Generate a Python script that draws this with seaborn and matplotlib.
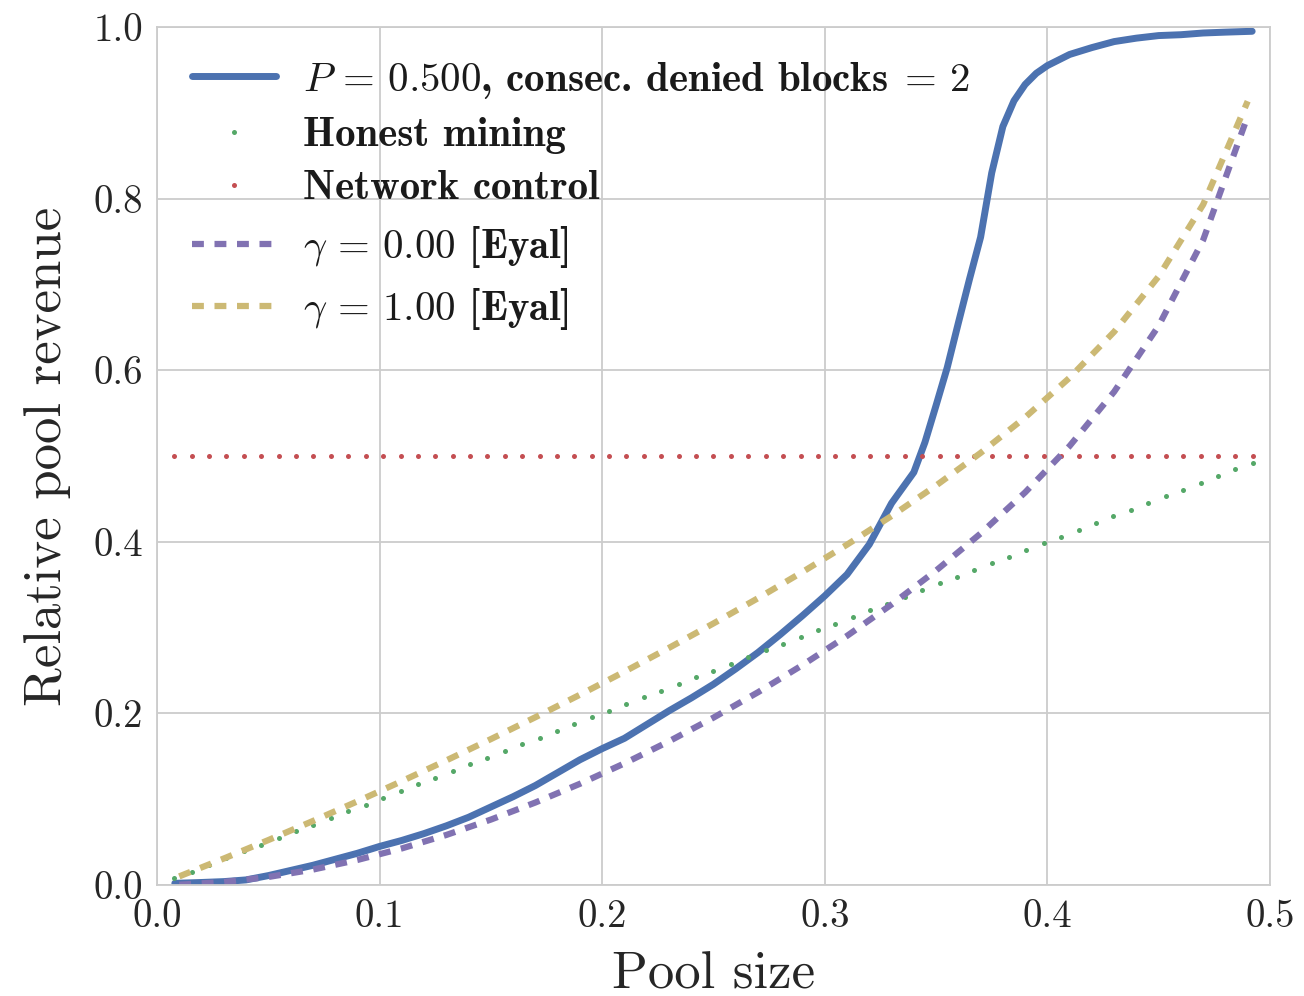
import numpy as np
import pandas as pd
import matplotlib
matplotlib.use("Agg")
import matplotlib.pyplot as plt
import seaborn as sns

# blue: simulated pool revenue, P = 0.5, 2 consecutive denied blocks
sim_pool_size = [0.008, 0.02, 0.03, 0.04, 0.05, 0.06, 0.07, 0.08, 0.09, 0.10,
                 0.11, 0.12, 0.13, 0.14, 0.15, 0.16, 0.17, 0.18, 0.19, 0.20,
                 0.21, 0.22, 0.23, 0.24, 0.25, 0.26, 0.27, 0.28, 0.29, 0.30,
                 0.31, 0.32, 0.33, 0.34, 0.345, 0.35, 0.355, 0.36, 0.365, 0.37,
                 0.375, 0.38, 0.385, 0.39, 0.395, 0.40,
                 0.41, 0.42, 0.43, 0.44, 0.45, 0.46, 0.47, 0.48, 0.492]
sim_revenue = [0.002, 0.003, 0.004, 0.006, 0.011, 0.017, 0.023, 0.030, 0.037, 0.045,
               0.052, 0.060, 0.069, 0.079, 0.091, 0.103, 0.116, 0.131, 0.146, 0.159,
               0.171, 0.187, 0.203, 0.218, 0.234, 0.252, 0.271, 0.292, 0.314, 0.337,
               0.362, 0.397, 0.445, 0.481, 0.516, 0.559, 0.603, 0.655, 0.706, 0.755,
               0.830, 0.884, 0.914, 0.933, 0.946, 0.955,
               0.968, 0.976, 0.983, 0.987, 0.990, 0.991, 0.993, 0.994, 0.995]

# dotted reference lines (one point per grid step)
ref_pool_size = [0.0078, 0.0156, 0.0234, 0.0312, 0.0391, 0.0469, 0.0547, 0.0625,
                 0.0703, 0.0781, 0.0859, 0.0938, 0.1016, 0.1094, 0.1172, 0.1250,
                 0.1328, 0.1406, 0.1484, 0.1562, 0.1641, 0.1719, 0.1797, 0.1875,
                 0.1953, 0.2031, 0.2109, 0.2188, 0.2266, 0.2344, 0.2422, 0.2500,
                 0.2578, 0.2656, 0.2734, 0.2812, 0.2891, 0.2969, 0.3047, 0.3125,
                 0.3203, 0.3281, 0.3359, 0.3438, 0.3516, 0.3594, 0.3672, 0.3750,
                 0.3828, 0.3906, 0.3984, 0.4062, 0.4141, 0.4219, 0.4297, 0.4375,
                 0.4453, 0.4531, 0.4609, 0.4688, 0.4766, 0.4844, 0.4922]
honest_revenue = list(ref_pool_size)
network_control = [0.5] * len(ref_pool_size)

# Eyal & Sirer selfish mining
eyal_pool_size = [0.01, 0.03, 0.05, 0.07, 0.09, 0.11, 0.13, 0.15, 0.17, 0.19,
                  0.21, 0.23, 0.25, 0.27, 0.29, 0.31, 0.33, 0.35, 0.37, 0.39,
                  0.41, 0.43, 0.45, 0.47, 0.49]
eyal_gamma0 = [0.0004, 0.0035, 0.0094, 0.0180, 0.0292, 0.0427, 0.0584, 0.0763, 0.0962, 0.1180,
               0.1418, 0.1675, 0.1951, 0.2247, 0.2564, 0.2904, 0.3270, 0.3665, 0.4097, 0.4576,
               0.5117, 0.5749, 0.6518, 0.7519, 0.8962]
eyal_gamma1 = [0.0101, 0.0309, 0.0524, 0.0746, 0.0975, 0.1211, 0.1453, 0.1701, 0.1956, 0.2218,
               0.2487, 0.2764, 0.3049, 0.3343, 0.3649, 0.3967, 0.4301, 0.4656, 0.5036, 0.5450,
               0.5913, 0.6448, 0.7094, 0.7931, 0.9135]

sns.set_style("whitegrid")
plt.rcParams["font.family"] = ["cmr10"]
plt.rcParams["mathtext.fontset"] = "cm"
plt.rcParams["axes.formatter.use_mathtext"] = True
plt.rcParams["axes.unicode_minus"] = False

deep = ["#4C72B0", "#55A868", "#C44E52", "#8172B2", "#CCB974"]

fig = plt.figure(figsize=(13.04, 9.96), dpi=100)
ax = fig.add_axes([0.1204, 0.1114, 0.8535, 0.8615])

sns.lineplot(x=sim_pool_size, y=sim_revenue, ax=ax, color=deep[0], linewidth=5,
             label=r"$P\,=\,0.500$, consec. denied blocks$\;=\,2$")
sns.lineplot(x=ref_pool_size, y=honest_revenue, ax=ax, color=deep[1], linestyle="none",
             marker="o", markersize=3.6, markeredgewidth=0, label="Honest mining")
sns.lineplot(x=ref_pool_size, y=network_control, ax=ax, color=deep[2], linestyle="none",
             marker="o", markersize=3.6, markeredgewidth=0, label="Network control")
sns.lineplot(x=eyal_pool_size, y=eyal_gamma0, ax=ax, color=deep[3], linewidth=4.5,
             linestyle=(0, (1.9, 1.7)), label=r"$\gamma\,=\,0.00$ [Eyal]")
sns.lineplot(x=eyal_pool_size, y=eyal_gamma1, ax=ax, color=deep[4], linewidth=4.5,
             linestyle=(0, (1.9, 1.7)), label=r"$\gamma\,=\,1.00$ [Eyal]")

ax.set_xlim(0, 0.5)
ax.set_ylim(0, 1.0)
ax.set_xticks([0.0, 0.1, 0.2, 0.3, 0.4, 0.5])
ax.set_yticks([0.0, 0.2, 0.4, 0.6, 0.8, 1.0])
ax.set_xticklabels(["0.0", "0.1", "0.2", "0.3", "0.4", "0.5"])
ax.set_yticklabels(["0.0", "0.2", "0.4", "0.6", "0.8", "1.0"])
ax.tick_params(labelsize=28, length=0, pad=10)
ax.set_xlabel("Pool size", fontsize=38, labelpad=12)
ax.set_ylabel("Relative pool revenue", fontsize=38, labelpad=16)

for s in ax.spines.values():
    s.set_color("#cccccc")
    s.set_linewidth(1.3)
ax.grid(color="#cccccc", linewidth=1.3)

leg = ax.legend(loc="upper left", bbox_to_anchor=(0.017, 0.981), borderaxespad=0,
                frameon=False, prop={"family": "cmb10", "size": 29.5},
                handlelength=2.05, handletextpad=0.65, labelspacing=0.4, numpoints=1)
for t in leg.get_texts():
    t.set_color("#1a1a1a")

fig.savefig("out.png", dpi=100)
